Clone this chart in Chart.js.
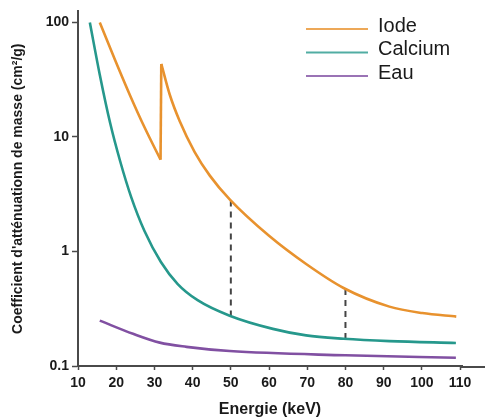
<!DOCTYPE html>
<html lang="fr">
<head>
<meta charset="utf-8">
<title>Coefficient d'atténuation de masse</title>
<script src="https://cdn.jsdelivr.net/npm/chart.js@4/dist/chart.umd.min.js"></script>
<style>
  html, body { margin: 0; padding: 0; background: #fff; }
  #wrap { width: 485px; height: 419px; }
</style>
</head>
<body>
<div id="wrap"><canvas id="myChart" width="485" height="419"></canvas></div>
<script>
// Données (énergie en keV, coefficient en cm²/g)
const iodeE = [15.7, 19.7, 23.6, 27.5, 31.6, 31.8, 34.0, 36.6, 40.5, 44.5, 49.7, 60, 69.8, 79.5, 91.5, 100.1, 109];
const iodeV = [100, 47.1, 23.2, 11.97, 6.34, 43.5, 23.5, 13.8, 7.43, 4.6, 2.85, 1.37, 0.773, 0.48, 0.33, 0.29, 0.27];
const iodeEdge = 4; // index du seuil K (discontinuité)

const calciumE = [13.1, 15.7, 18.4, 21.0, 23.9, 27.4, 31.7, 36.1, 41.3, 49.7, 61, 69.7, 79.5, 91.5, 108.9];
const calciumV = [100, 35, 13.3, 6.2, 3.0, 1.51, 0.81, 0.52, 0.376, 0.275, 0.211, 0.185, 0.173, 0.165, 0.159];

const eauE = [15.7, 24.4, 31.4, 38.4, 49.7, 80, 108.9];
const eauV = [0.249, 0.191, 0.160, 0.147, 0.135, 0.124, 0.118];

// traits pointillés verticaux à 50 et 80 keV
const dash50 = [0.27, 2.82];
const dash80 = [0.172, 0.475];

const xTicks = [10, 20, 30, 40, 50, 60, 70, 80, 90, 100, 110];
const yTicks = [0.1, 1, 10, 100];

const legendLabels = ["Iode", "Calcium", "Eau"];

// couleurs
const colorSet = {
  orange: "#e8922e",
  teal  : "#26988c",
  purple: "#8150a2",
  dash  : "#444444",
  axis  : "#4a4a4a",
  text  : "#1a1a1a",
};
const legendColors = [colorSet.orange, colorSet.teal, colorSet.purple];

const pts = (xs, ys) => xs.map((x, i) => ({ x: x, y: ys[i] }));

const curve = (label, xs, ys, color) => ({
  label: label,
  data: pts(xs, ys),
  borderColor: color,
  borderWidth: 2.6,
});

const straight = (label, xs, ys, color, width, dash) => ({
  label: label,
  data: pts(xs, ys),
  borderColor: color,
  borderWidth: width,
  borderDash: dash,
  cubicInterpolationMode: "default",
  tension: 0,
});

const data = {
  datasets: [
    curve("Iode", iodeE.slice(0, iodeEdge + 1), iodeV.slice(0, iodeEdge + 1), colorSet.orange),
    straight("Iode", iodeE.slice(iodeEdge, iodeEdge + 2), iodeV.slice(iodeEdge, iodeEdge + 2), colorSet.orange, 2.6, []),
    curve("Iode", iodeE.slice(iodeEdge + 1), iodeV.slice(iodeEdge + 1), colorSet.orange),
    curve("Calcium", calciumE, calciumV, colorSet.teal),
    curve("Eau", eauE, eauV, colorSet.purple),
    straight("", [50, 50], dash50, colorSet.dash, 2, [6, 5]),
    straight("", [80, 80], dash80, colorSet.dash, 2, [6, 5]),
  ]
};

// légende dessinée dans la zone du graphique (en haut à droite)
// + prolongement de l'axe des x jusqu'au bord droit
const extras = {
  id: "extras",
  afterDraw(chart) {
    const ctx = chart.ctx;
    const area = chart.chartArea;
    ctx.save();
    ctx.strokeStyle = colorSet.axis;
    ctx.lineWidth = 2;
    ctx.beginPath();
    ctx.moveTo(area.right - 1, area.bottom + 1);
    ctx.lineTo(chart.width, area.bottom + 1);
    ctx.stroke();

    ctx.font = "20px 'Liberation Sans', Arial, sans-serif";
    ctx.textBaseline = "middle";
    ctx.fillStyle = colorSet.text;
    legendLabels.forEach((label, i) => {
      const y = 29 + i * 23.5;
      ctx.strokeStyle = legendColors[i];
      ctx.globalAlpha = 0.8;
      ctx.lineWidth = 2;
      ctx.beginPath();
      ctx.moveTo(306, y);
      ctx.lineTo(368, y);
      ctx.stroke();
      ctx.globalAlpha = 1;
      ctx.fillText(label, 378, y - 3);
    });
    ctx.restore();
  }
};

const tickFont = { family: "'Liberation Sans', Arial, sans-serif", size: 14, weight: "bold" };

const config = {
  type: "line",
  data: data,
  options: {
    responsive: false,
    animation: false,
    layout: { padding: { top: 7, right: 23, left: 0, bottom: 0 } },
    elements: {
      point: { radius: 0 },
      line: { cubicInterpolationMode: "monotone", fill: false }
    },
    plugins: {
      legend: { display: false },
      tooltip: { enabled: false }
    },
    scales: {
      x: {
        type: "linear",
        min: 10,
        max: 110.5,
        afterBuildTicks: (scale) => { scale.ticks = xTicks.map(v => ({ value: v })); },
        afterFit: (scale) => { scale.height = 53; },
        grid: { drawOnChartArea: false, tickLength: 4, color: colorSet.axis, tickWidth: 1.5 },
        border: { color: colorSet.axis, width: 2 },
        ticks: { color: colorSet.text, font: tickFont, padding: 5, maxRotation: 0 },
        title: {
          display: true,
          text: "Energie (keV)",
          color: colorSet.text,
          font: { family: "'Liberation Sans', Arial, sans-serif", size: 16, weight: "bold" },
          padding: { top: 0, bottom: 0 }
        }
      },
      y: {
        type: "logarithmic",
        min: 0.1,
        max: 125,
        afterBuildTicks: (scale) => { scale.ticks = yTicks.map(v => ({ value: v })); },
        afterFit: (scale) => { scale.width = 78; },
        grid: { drawOnChartArea: false, tickLength: 6, color: colorSet.axis, tickWidth: 1.5 },
        border: { color: colorSet.axis, width: 2 },
        ticks: {
          color: colorSet.text,
          font: tickFont,
          padding: 3,
          callback: (v) => String(v)
        },
        title: {
          display: true,
          text: "Coefficient d'atténuationn de masse (cm²/g)",
          color: colorSet.text,
          font: { family: "'Liberation Sans', Arial, sans-serif", size: 14, weight: "bold" },
          padding: { top: 10, bottom: 0 }
        }
      }
    }
  },
  plugins: [extras]
};

const ctx = document.getElementById("myChart");
const myChart = new Chart(ctx, config);
</script>
</body>
</html>
